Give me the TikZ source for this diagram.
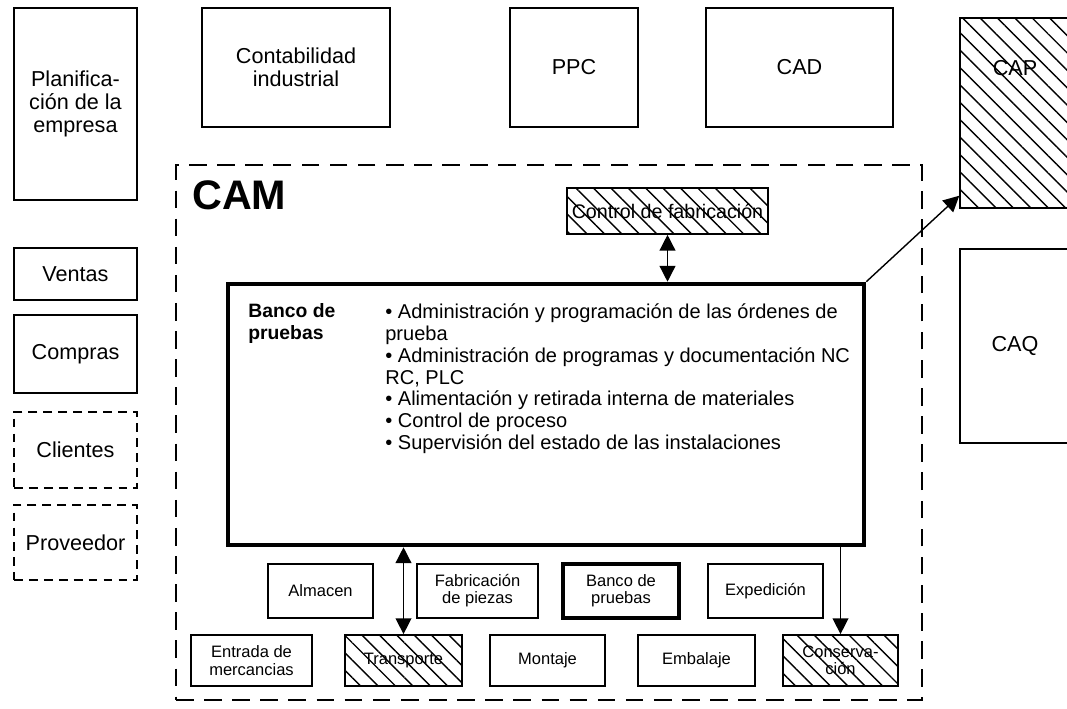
\documentclass[tikz,border=0pt]{standalone}
\usepackage{fontspec}
\setmainfont{Liberation Sans}
\usetikzlibrary{arrows.meta,patterns.meta}

\begin{document}
\begin{tikzpicture}[
		box/.style={draw, line width=0.9pt, align=center, inner sep=0pt, font=\fontsize{12.3}{13}\selectfont},
		dashbox/.style={box, dash pattern=on 5pt off 3.5pt, minimum width=2.46cm},
		unit/.style={draw, line width=1pt, align=center, inner sep=0pt, minimum width=2.34cm, minimum height=1.02cm, font=\fontsize{9.4}{9.8}\selectfont},
		hatch/.style={pattern={Lines[angle=-45,distance=7pt,line width=0.8pt]}},
		tri/.style={-{Triangle[length=9pt,width=9pt]}, line width=0.8pt},
		dbl/.style={{Triangle[length=9pt,width=9pt]}-{Triangle[length=9pt,width=9pt]}, line width=0.8pt},
	]
		\useasboundingbox (0,0) rectangle (21.34,14.16);

		% upper row
		\node (plan)[box, minimum width=2.46cm, minimum height=3.84cm] at (1.51,12.08) {Planifica-\\ción de la\\empresa};
		\node (cont)[box, minimum width=3.76cm, minimum height=2.38cm] at (5.92,12.81) {Contabilidad\\industrial};
		\node (ppc)[box, minimum width=2.56cm, minimum height=2.38cm] at (11.48,12.81) {PPC};
		\node (cad)[box, minimum width=3.74cm, minimum height=2.38cm] at (15.99,12.81) {CAD};
		\node (cap)[box, hatch, minimum width=2.2cm, minimum height=3.8cm] at (20.3,11.9) {};
		\node (caplbl)[box, draw=none] at (20.3,12.8) {CAP};
		\node (caq)[box, minimum width=2.2cm, minimum height=3.88cm] at (20.3,7.24) {CAQ};

		% left column
		\node (vent)[box, minimum width=2.46cm, minimum height=1.04cm] at (1.51,8.68) {Ventas};
		\node (comp)[box, minimum width=2.46cm, minimum height=1.56cm] at (1.51,7.08) {Compras};
		\node (cli)[dashbox, minimum height=1.52cm] at (1.51,5.16) {Clientes};
		\node (prov)[dashbox, minimum height=1.5cm] at (1.51,3.31) {Proveedor};

		% CAM frame
		\node (cam)[draw, line width=1.6pt, dash pattern=on 10pt off 6pt, minimum width=14.92cm, minimum height=10.7cm] at (10.98,5.51) {};
		\node (camlbl)[anchor=west, inner sep=0pt, font=\bfseries\fontsize{23.5}{23.5}\selectfont] at (3.84,10.26) {CAM};
		\node (ctrl)[box, hatch, minimum width=4.02cm, minimum height=0.92cm, font=\fontsize{11.2}{12}\selectfont] at (13.35,9.94) {Control de fabricación};

		\node (banco)[draw, line width=2.6pt, minimum width=12.72cm, minimum height=5.22cm] at (10.92,5.87) {};
		\node (btitle)[anchor=north west, align=left, inner sep=0pt, font=\bfseries\fontsize{11}{12.5}\selectfont] at (4.96,8.1) {Banco de\\pruebas};
		\node (blist)[anchor=north west, align=left, inner sep=0pt, font=\fontsize{11.4}{12.5}\selectfont] at (7.7,8.1)
			{• Administración y programación de las órdenes de\\prueba\\• Administración de programas y documentación NC\\RC, PLC\\• Alimentación y retirada interna de materiales\\• Control de proceso\\• Supervisión del estado de las instalaciones};

		% units
		\node (alm)[unit, minimum width=2.1cm, minimum height=1.08cm] at (6.41,2.34) {Almacen};
		\node (fab)[unit, minimum width=2.42cm, minimum height=1.08cm] at (9.55,2.34) {Fabricación\\de piezas};
		\node (bp)[unit, line width=1.8pt, minimum width=2.32cm, minimum height=1.08cm] at (12.42,2.34) {Banco de\\pruebas};
		\node (exp)[unit, minimum width=2.3cm, minimum height=1.08cm] at (15.31,2.34) {Expedición};

		\node (ent)[unit, minimum width=2.42cm] at (5.03,0.95) {Entrada de\\mercancias};
		\node (trans)[unit, hatch] at (8.07,0.95) {Transporte};
		\node (mont)[unit, minimum width=2.3cm] at (10.95,0.95) {Montaje};
		\node (emb)[unit] at (13.93,0.95) {Embalaje};
		\node (cons)[unit, hatch, minimum width=2.3cm] at (16.81,0.95) {Conserva-\\ción};

		\draw[dbl] (ctrl) -- (ctrl |- banco.north);
		\draw[dbl] (trans) -- (trans |- banco.south);
		\draw[tri] (cons |- banco.south) -- (cons);
		\draw[tri] (banco.north east) -- ([yshift=0.26cm]cap.south west);
	\end{tikzpicture}
\end{document}
